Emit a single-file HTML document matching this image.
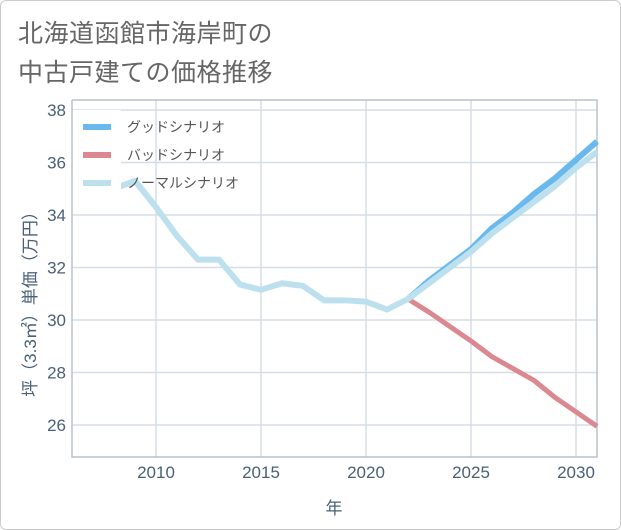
<!DOCTYPE html>
<html><head><meta charset="utf-8"><style>
body{margin:0;background:#fff;font-family:"Liberation Sans","Noto Sans CJK JP",sans-serif;}
#frame{position:absolute;left:0;top:0;width:619px;height:528px;border:1px solid #ccc;border-radius:6px;}
.title{position:absolute;left:18px;font-size:25px;color:#666;white-space:nowrap;letter-spacing:0.5px}
</style></head><body>
<div id="frame"></div>
<div class="title" style="top:14px">北海道函館市海岸町の</div>
<div class="title" style="top:53px">中古戸建ての価格推移</div>
<svg id="chart" width="621" height="530" style="position:absolute;left:0;top:0"></svg>
<script>
const years=[2008,2009,2010,2011,2012,2013,2014,2015,2016,2017,2018,2019,2020,2021,2022,2023,2024,2025,2026,2027,2028,2029,2030,2031];
const normal=[35.0,35.3,34.3,33.2,32.3,32.3,31.35,31.15,31.4,31.3,30.75,30.75,30.7,30.4,30.8,31.4,32.0,32.6,33.3,33.9,34.5,35.1,35.8,36.4];
const futureYears=[2022,2023,2024,2025,2026,2027,2028,2029,2030,2031];
const good=[30.8,31.5,32.1,32.7,33.5,34.1,34.8,35.4,36.1,36.8];
const bad=[30.8,30.3,29.75,29.2,28.6,28.15,27.7,27.05,26.5,25.95];
const yTicks=[26,28,30,32,34,36,38];
const xTicks=[2010,2015,2020,2025,2030];
const seriesNames=["グッドシナリオ","バッドシナリオ","ノーマルシナリオ"];
const L=72,R=597,T=100,B=457;
const X=v=>156+(v-2010)*21;
const Y=v=>320-(v-30)*26.25;
const svg=document.getElementById('chart');
const NS='http://www.w3.org/2000/svg';
function mk(tag,attrs){const e=document.createElementNS(NS,tag);for(const k in attrs)e.setAttribute(k,attrs[k]);svg.appendChild(e);return e;}
for(const t of yTicks){
 const g=mk('line',{x1:L,x2:R,y1:Y(t),y2:Y(t),stroke:'#d5dde6','stroke-width':1.5});
 
 
 const tx=mk('text',{x:66,y:Y(t)+6,'text-anchor':'end','font-size':17,fill:'#4a6078'});
 tx.textContent=t;
 
 
}
for(const t of xTicks){
 const g=mk('line',{x1:X(t),x2:X(t),y1:T,y2:B,stroke:'#d5dde6','stroke-width':1.5});
 
 
 const tx=mk('text',{x:X(t),y:478,'text-anchor':'middle','font-size':17,fill:'#4a6078'});
 tx.textContent=t;
 
 
}
const ax=mk('path',{d:`M${L} ${T}V${B}H${R}V${T}H${L}`,fill:'none',stroke:'#b8c2cc','stroke-width':1.5});


function line(xs,ys,color,w,name){
 const p=mk('polyline',{points:xs.map((x,i)=>X(x)+','+Y(ys[i])).join(' '),fill:'none',stroke:color,'stroke-width':w,'stroke-linejoin':'round'});
 
 
}
line(futureYears,bad,'#dc8890',5,'bad-scenario-line');
line(futureYears,good,'#6ab9ee',6,'good-scenario-line');
line(years,normal,'#bde0ef',6,'normal-scenario-line');
const lb=mk('rect',{x:73,y:110,width:48,height:85,fill:'#fff'});


const lc=['#6ab9ee','#dc8890','#bde0ef'];
seriesNames.forEach((n,i)=>{
 const y=127+i*28;
 const s=mk('line',{x1:83,x2:111,y1:y,y2:y,stroke:lc[i],'stroke-width':6});
 
 
 const t=mk('text',{x:127,y:y+5,'font-size':14,fill:'#555'});
 t.textContent=n;
 
 
});
const yt=mk('text',{x:0,y:0,'font-size':17,fill:'#4a6078','text-anchor':'middle',transform:'translate(36,300) rotate(-90)'});
yt.textContent='坪（3.3㎡）単価（万円）';


const xt=mk('text',{x:334,y:514,'font-size':17,fill:'#4a6078','text-anchor':'middle'});
xt.textContent='年';


</script>
</body></html>
